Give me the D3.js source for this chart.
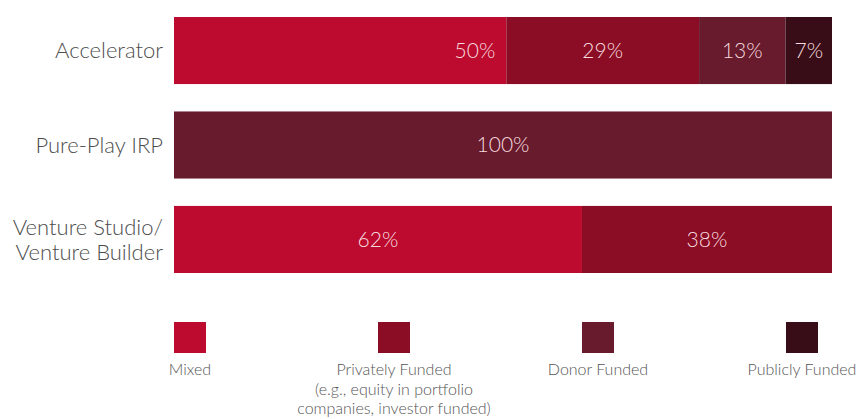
<!DOCTYPE html>
<html>
<head>
<meta charset="utf-8">
<script src="https://cdn.jsdelivr.net/npm/d3@7"></script>
<style>
  body { margin: 0; background: #fff; }
  svg { font-family: "Lato", "Open Sans", sans-serif; font-weight: 300; }
</style>
</head>
<body>
<div id="chart"></div>
<script>
const categories = ["Accelerator", "Pure-Play IRP", "Venture Studio/\nVenture Builder"];
const series = ["Mixed", "Privately Funded", "Donor Funded", "Publicly Funded"];
const legendLabels = ["Mixed", "Privately Funded\n(e.g., equity in portfolio\ncompanies, investor funded)", "Donor Funded", "Publicly Funded"];
const mixed = [50, 0, 62];
const privatelyFunded = [29, 0, 38];
const donorFunded = [13, 100, 0];
const publiclyFunded = [7, 0, 0];

const colors = ["#bd0a2f", "#8b0c25", "#671b2d", "#380d18"];

document.addEventListener("DOMContentLoaded", function () {
    const width = 860, height = 419;

    const rows = categories.map((c, i) => ({
        category: c,
        "Mixed": mixed[i],
        "Privately Funded": privatelyFunded[i],
        "Donor Funded": donorFunded[i],
        "Publicly Funded": publiclyFunded[i]
    }));

    const stacked = d3.stack().keys(series).offset(d3.stackOffsetExpand)(rows);

    const svg = d3.select("#chart").append("svg")
        .attr("width", width)
        .attr("height", height);

    const xScale = d3.scaleLinear().domain([0, 1]).range([174, 832]);
    const yScale = d3.scaleBand()
        .domain(categories)
        .range([17, 273])
        .paddingInner(0.29)
        .paddingOuter(0);

    // Bars
    stacked.forEach((layer, si) => {
        const g = svg.append("g");
        g.selectAll("rect")
            .data(layer.filter(d => d.data[layer.key] > 0))
            .enter()
            .append("rect")
            .attr("x", d => xScale(d[0]))
            .attr("y", d => yScale(d.data.category))
            .attr("width", d => xScale(d[1]) - xScale(d[0]))
            .attr("height", yScale.bandwidth())
            .attr("fill", colors[si]);

        g.selectAll("text")
            .data(layer.filter(d => d.data[layer.key] > 0))
            .enter()
            .append("text")
            .attr("x", d => {
                // the Accelerator "Mixed" label sits toward the end of its segment
                if (si === 0 && d.data.category === categories[0]) return xScale(d[1]) - 11;
                return (xScale(d[0]) + xScale(d[1])) / 2;
            })
            .attr("y", d => yScale(d.data.category) + yScale.bandwidth() / 2)
            .attr("dy", "0.35em")
            .attr("text-anchor", d => (si === 0 && d.data.category === categories[0]) ? "end" : "middle")
            .attr("fill", "#f6dade")
            .style("font-size", "21px")
            .text(d => d.data[layer.key] + "%");
    });

    // Category labels
    const yAxis = svg.append("g");
    categories.forEach(c => {
        const lines = c.split("\n");
        const cy = yScale(c) + yScale.bandwidth() / 2;
        const t = yAxis.append("text")
            .attr("x", 163)
            .attr("text-anchor", "end")
            .attr("fill", "#4d4d4d")
            .style("font-size", "22px");
        lines.forEach((line, i) => {
            t.append("tspan")
                .attr("x", 163)
                .attr("y", cy + (i - (lines.length - 1) / 2) * 25)
                .attr("dy", "0.35em")
                .text(line);
        });
    });

    // Legend
    const legendX = d3.scalePoint().domain(series).range([190, 802]);
    const legend = svg.append("g");
    series.forEach((s, i) => {
        const cx = legendX(s);
        legend.append("rect")
            .attr("x", cx - 16)
            .attr("y", 322)
            .attr("width", 32)
            .attr("height", 31)
            .attr("fill", colors[i]);
        const t = legend.append("text")
            .attr("text-anchor", "middle")
            .attr("fill", "#555")
            .style("font-size", "16px");
        legendLabels[i].split("\n").forEach((line, j) => {
            t.append("tspan")
                .attr("x", cx)
                .attr("y", 375 + j * 19.5)
                .text(line);
        });
    });
});
</script>
</body>
</html>
